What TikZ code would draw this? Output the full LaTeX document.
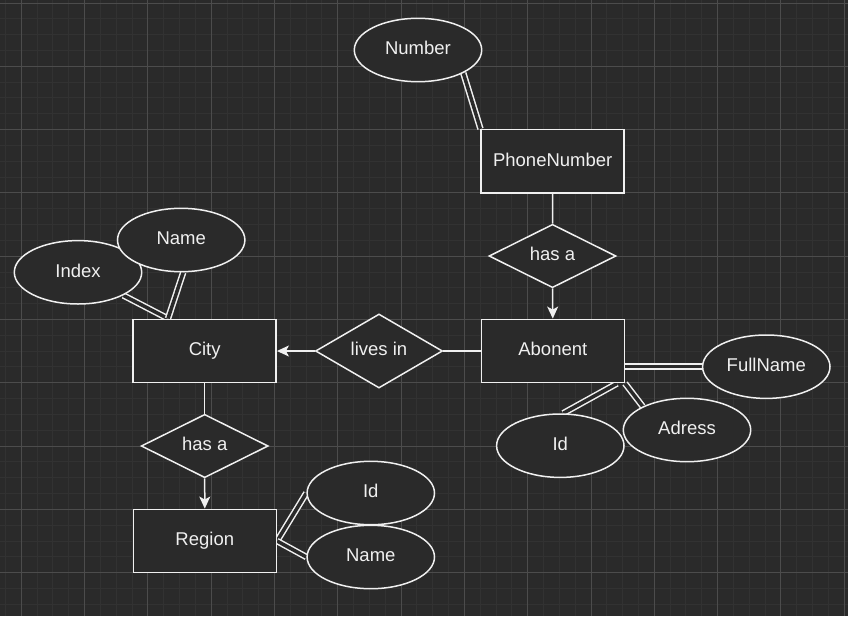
\documentclass[tikz,border=0pt]{standalone}
\usepackage{fontspec}
\setmainfont{Liberation Sans}
\usetikzlibrary{shapes.geometric,arrows.meta}
\definecolor{bgc}{HTML}{2A2A2A}
\definecolor{fgc}{HTML}{F0F0F0}
\definecolor{minorc}{HTML}{323232}
\definecolor{majorc}{HTML}{4C4C4C}
\pgfdeclarelayer{gridlayer}
\pgfdeclarelayer{edgelayer}
\pgfsetlayers{gridlayer,edgelayer,main}
\begin{document}
\begin{tikzpicture}[x=1pt,y=-1pt,
  lbl/.style={text=fgc, font=\fontsize{18.5}{22}\selectfont, text height=13.5pt, text depth=4pt},
  entity/.style={lbl, rectangle, draw=fgc, fill=bgc, line width=1.5pt, minimum width=143pt, minimum height=63.4pt, inner sep=0pt},
  attr/.style={lbl, ellipse, draw=fgc, fill=bgc, line width=1.5pt, minimum width=127.4pt, minimum height=63.4pt, inner sep=0pt},
  rel/.style={lbl, diamond, draw=fgc, fill=bgc, line width=1.5pt, minimum width=127pt, minimum height=63.4pt, inner sep=0pt},
  conn/.style={draw=fgc, line width=1.5pt},
  arr/.style={conn, -{Stealth[length=12pt,width=11pt,inset=3pt]}},
  dbl/.style={draw=fgc, line width=1.5pt, double=bgc, double distance=3.5pt},
  minorline/.style={draw=minorc, line width=1pt},
  majorline/.style={draw=majorc, line width=1pt},
]
\useasboundingbox (0,0) rectangle (848,616);
\begin{pgfonlayer}{gridlayer}
\fill[bgc] (0,0) rectangle (848,616);
\foreach \i in {-2,...,53} { \draw[minorline] ({21.3+\i*15.825},0) -- ++(0,616); }
\foreach \i in {0,...,39} { \draw[minorline] (0,{3+\i*15.825}) -- ++(848,0); }
\foreach \i in {0,...,13} { \draw[majorline] ({21.3+\i*63.3},0) -- ++(0,616); }
\foreach \i in {0,...,9} { \draw[majorline] (0,{3+\i*63.3}) -- ++(848,0); }
\end{pgfonlayer}

% entities
\node[entity] (phone) at (552.7,161.3) {PhoneNumber};
\node[entity] (abonent) at (552.8,351) {Abonent};
\node[entity] (city) at (204.7,351) {City};
\node[entity] (region) at (204.8,541) {Region};

% relationships
\node[rel] (hasa1) at (552.5,256) {has a};
\node[rel] (livesin) at (379,351) {lives in};
\node[rel] (hasa2) at (204.7,446) {has a};

% attributes
\node[attr] (number) at (418,50) {Number};
\node[attr] (index) at (78,272.3) {Index};
\node[attr] (cname) at (181.2,240) {Name};
\node[attr] (fullname) at (766.3,366.7) {FullName};
\node[attr] (adress) at (687,430) {Adress};
\node[attr] (aid) at (560.3,445.7) {Id};
\node[attr] (rid) at (370.8,493) {Id};
\node[attr] (rname) at (370.8,557) {Name};

\begin{pgfonlayer}{edgelayer}
\draw[conn] (phone.south) -- (hasa1.north);
\draw[arr] (hasa1.south) -- (abonent.north);
\draw[conn] (abonent.west) -- (livesin.east);
\draw[arr] (livesin.west) -- (city.east);
\draw[conn] (city.south) -- (hasa2.north);
\draw[arr] (hasa2.south) -- (region.north);

\coordinate (citytop) at ([xshift=-36.7pt]city.north);
\draw[dbl] (number.-27) -- (phone.north west);
\draw[dbl] (index.-27) -- (citytop);
\draw[dbl] ([xshift=2pt]cname.south) -- (citytop);
\draw[dbl] ([yshift=-15.7pt]abonent.east) -- (fullname.west);
\draw[dbl] (abonent.south east) -- (adress.152);
\draw[dbl] ([xshift=-8pt]abonent.south east) -- (aid.85);
\draw[dbl] (rid.west) -- (region.east);
\draw[dbl] (rname.west) -- (region.east);
\end{pgfonlayer}
\end{tikzpicture}
\end{document}
